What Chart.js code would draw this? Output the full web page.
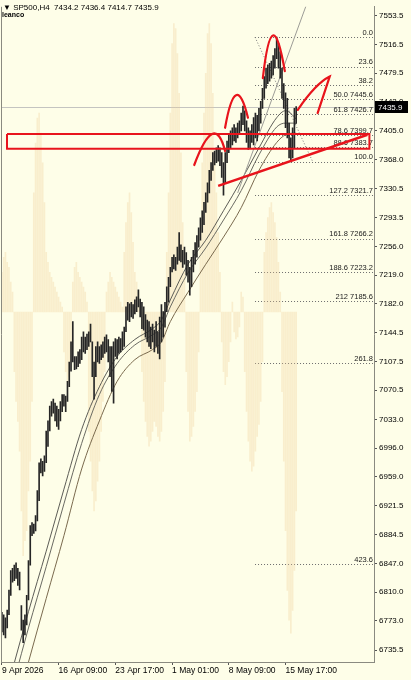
<!DOCTYPE html>
<html>
<head>
<meta charset="utf-8">
<script src="https://cdn.jsdelivr.net/npm/chart.js@4.4.1/dist/chart.umd.min.js"></script>
<style>
  html, body { margin: 0; padding: 0; background: #fefee8; }
</style>
</head>
<body>
<canvas id="chart" width="411" height="680"></canvas>
<script>
// 行情数据 (SP500, H4) - 最高/最低价
const highs = [
  6784, 6781, 6777, 6787, 6813, 6838, 6841, 6845, 6848, 6841,
  6836, 6793, 6774, 6781, 6806, 6851, 6896, 6900, 6898, 6909,
  6941, 6977, 6982, 6979, 6986, 7018, 7031, 7050, 7056, 7059,
  7054, 7050, 7046, 7056, 7065, 7065, 7063, 7082, 7107, 7133,
  7159, 7114, 7114, 7120, 7123, 7139, 7146, 7139, 7143, 7146,
  7156, 7133, 7107, 7127, 7133, 7127, 7129, 7133, 7139, 7142,
  7136, 7127, 7127, 7133, 7137, 7136, 7139, 7137, 7146, 7152,
  7178, 7184, 7182, 7184, 7181, 7187, 7191, 7200, 7188, 7184,
  7178, 7168, 7161, 7159, 7152, 7156, 7148, 7159, 7146, 7165,
  7181, 7172, 7184, 7204, 7216, 7229, 7242, 7245, 7242, 7255,
  7274, 7258, 7251, 7255, 7248, 7238, 7229, 7242, 7251, 7261,
  7270, 7280, 7293, 7302, 7313, 7325, 7338, 7354, 7364, 7377,
  7379, 7383, 7386, 7383, 7377, 7364, 7377, 7392, 7400, 7405,
  7409, 7413, 7409, 7415, 7418, 7428, 7437, 7431, 7418, 7409,
  7405, 7413, 7422, 7428, 7425, 7434, 7443, 7460, 7475, 7486,
  7490, 7492, 7495, 7502, 7511, 7526, 7518, 7507, 7486, 7466,
  7454, 7447, 7415, 7396, 7409, 7434, 7436.4
];
const lows = [
  6759, 6755, 6751, 6764, 6781, 6806, 6823, 6825, 6828, 6819,
  6813, 6761, 6745, 6755, 6768, 6800, 6845, 6883, 6886, 6889,
  6902, 6928, 6964, 6960, 6966, 6977, 6998, 7018, 7037, 7041,
  7031, 7024, 7020, 7031, 7043, 7050, 7043, 7056, 7075, 7095,
  7107, 7097, 7098, 7101, 7105, 7110, 7120, 7118, 7123, 7127,
  7133, 7088, 7059, 7088, 7107, 7105, 7110, 7113, 7118, 7120,
  7107, 7088, 7069, 7054, 7114, 7111, 7118, 7120, 7123, 7127,
  7146, 7161, 7159, 7165, 7163, 7169, 7172, 7178, 7165, 7150,
  7148, 7139, 7133, 7127, 7124, 7133, 7120, 7127, 7118, 7111,
  7133, 7139, 7152, 7172, 7184, 7204, 7223, 7227, 7225, 7233,
  7238, 7236, 7229, 7233, 7219, 7210, 7193, 7204, 7223, 7233,
  7242, 7255, 7264, 7274, 7284, 7300, 7313, 7325, 7341, 7354,
  7361, 7364, 7366, 7360, 7345, 7322, 7338, 7364, 7377, 7383,
  7387, 7392, 7390, 7396, 7400, 7405, 7413, 7405, 7390, 7381,
  7383, 7390, 7387, 7396, 7392, 7405, 7415, 7434, 7447, 7460,
  7466, 7469, 7473, 7477, 7486, 7498, 7486, 7473, 7447, 7434,
  7409, 7396, 7370, 7366, 7370, 7383, 7414.7
];

// 背景里的柱状指标
const osc = [
  40, 55, 60, 50, 45, 30, 20,
  -60, -90, -110, -140,
  -200, -245, -230, -220, -180, -150,
  -90,
  120, 170, 195, 200, 180, 150, 110,
  60, 50, 40, 35, 30, 25, 20, 15, 10, 5,
  -40, -60, -70, -65, -50,
  30, 45, 50, 40, 35, 30, 25, 20, 10,
  -120, -150, -180, -200, -190, -170, -150, -120, -90, -60,
  20, 30, 40, 35, 30, 25, 20, 15, 10, 5,
  60, 90, 110, 120, 100, 70,
  40, 30, 20, 10,
  -60, -90, -110, -125, -135, -130, -120, -110, -115, -125, -130, -120, -100, -70,
  60, 120, 200,
  270, 290, 285, 260, 220, 160,
  90, 40,
  -60, -100, -130, -125, -115, -100, -80, -40,
  80, 150, 200, 240,
  280, 290, 270, 220,
  160, 120, 80, 40,
  -30, -60, -73, -65, -50, -30,
  10,
  -20, -27, -25, -15,
  20, 15,
  -60, -100, -130, -150, -160, -155, -140, -125, -113, -90, -50,
  60, 80, 95, 105, 110, 100, 90, 75, 50, 20,
  -80, -150, -220, -280, -310, -323, -300, -260, -200
];

// 三条均线 (bar 序号 / 价格)
const maIdx = [7, 15, 25, 35, 45, 55, 65, 75, 85, 90, 95, 105, 115, 125, 135, 145, 155, 160, 165, 166];
const ma1 = [6719, 6785, 6863, 6943, 7020, 7075, 7114, 7136, 7150, 7161, 7187, 7233, 7264, 7302, 7341, 7383, 7422, 7431, 7423, 7420];
const ma2 = [6697, 6764, 6843, 6924, 7002, 7065, 7105, 7129, 7142, 7152, 7178, 7222, 7254, 7290, 7328, 7374, 7410, 7415, 7415, 7414];
const ma3 = [6652, 6720, 6802, 6883, 6969, 7031, 7082, 7110, 7123, 7133, 7159, 7197, 7233, 7268, 7306, 7354, 7390, 7400, 7402, 7402];

// 坐标轴刻度
const yTicks = [7553.5, 7516.5, 7479.5, 7442.0, 7405.0, 7368.0, 7330.5, 7293.5, 7256.0, 7219.0, 7182.0,
  7144.5, 7107.5, 7070.5, 7033.0, 6996.0, 6959.0, 6921.5, 6884.5, 6847.0, 6810.0, 6773.0, 6735.5];
const timeIdx = [0, 32, 64, 96, 128, 160];
const timeLabels = ['9 Apr 2026', '16 Apr 09:00', '23 Apr 17:00', '1 May 01:00', '8 May 09:00', '15 May 17:00'];

// 斐波那契回撤
const fibLabels = ['0.0', '23.6', '38.2', '50.0 7445.6', '61.8 7426.7', '78.6 7399.7', '88.6 7383.7', '100.0',
  '127.2 7321.7', '161.8 7266.2', '188.6 7223.2', '212 7185.6', '261.8', '423.6'];
const fibPrices = [7525.8, 7487.9, 7464.5, 7445.6, 7426.7, 7399.7, 7383.7, 7365.4,
  7321.7, 7266.2, 7223.2, 7185.6, 7105.9, 6846.4];
const fibStart = 142.8;
const fibDiag = [[142.8, 7525.8], [175.3, 7365.4]];

// 手画的红色标注
const redBox = [[2.9, 7401], [207.3, 7401], [207.3, 7382], [2.9, 7382], [2.9, 7401]];
const redTrend = [[122, 7334], [206.2, 7400]];
const redArcs = [
  [[108.5, 7361], [118.6, 7401], [125.9, 7379]],
  [[125.9, 7409], [132.1, 7451], [138.8, 7422]],
  [[147.2, 7473], [152.9, 7528], [159.6, 7482]]
];
const redHook = [[166.9, 7432], [177, 7466], [184.9, 7475], [178.1, 7428]];
const greyLine = [[133, 7325], [172, 7569]];

const quote = { name: 'SP500,H4', open: 7434.2, high: 7436.4, low: 7414.7, close: 7435.9 };

const BG = '#fefee8';
const RED = '#e8141c';
const FONT = '"Liberation Sans", Arial, sans-serif';

const pts = arr => arr.map(p => ({ x: p[0], y: p[1] }));
const maData = arr => maIdx.map((x, k) => ({ x: x, y: arr[k] }));

const overlay = {
  id: 'overlay',
  beforeDraw(chart) {
    const c = chart.ctx;
    c.save();
    c.fillStyle = BG;
    c.fillRect(0, 0, chart.width, chart.height);
    c.restore();
  },
  beforeDatasetsDraw(chart) {
    const c = chart.ctx, xs = chart.scales.x, ys = chart.scales.y, a = chart.chartArea;
    c.save();
    // 当前价格线
    const py = Math.round(ys.getPixelForValue(quote.close)) + 0.5;
    c.strokeStyle = '#c4c4c0';
    c.lineWidth = 1;
    c.beginPath(); c.moveTo(a.left, py); c.lineTo(a.right, py); c.stroke();
    // 斐波那契线
    const x0 = xs.getPixelForValue(fibStart);
    c.setLineDash([1, 2]);
    c.strokeStyle = '#6e6e6e';
    fibPrices.forEach(p => {
      const y = Math.round(ys.getPixelForValue(p)) + 0.5;
      c.beginPath(); c.moveTo(x0, y); c.lineTo(a.right, y); c.stroke();
    });
    c.setLineDash([]);
    c.fillStyle = '#1a1a1a';
    c.font = '7.5px ' + FONT;
    c.textAlign = 'right';
    c.textBaseline = 'bottom';
    fibLabels.forEach((t, k) => {
      c.fillText(t, a.right - 1, ys.getPixelForValue(fibPrices[k]) - 0.5);
    });
    c.restore();
  },
  afterDatasetsDraw(chart) {
    const c = chart.ctx, xs = chart.scales.x, ys = chart.scales.y, a = chart.chartArea;
    const px = p => [xs.getPixelForValue(p[0]), ys.getPixelForValue(p[1])];
    c.save();
    c.beginPath(); c.rect(a.left, a.top, a.right - a.left, a.bottom - a.top); c.clip();
    c.strokeStyle = RED;
    c.lineWidth = 2.2;
    c.lineCap = 'round';
    redArcs.forEach(arc => {
      const s = px(arc[0]), m = px(arc[1]), e = px(arc[2]);
      const cx = 2 * m[0] - (s[0] + e[0]) / 2, cy = 2 * m[1] - (s[1] + e[1]) / 2;
      c.beginPath(); c.moveTo(s[0], s[1]); c.quadraticCurveTo(cx, cy, e[0], e[1]); c.stroke();
    });
    const h = redHook.map(px);
    c.beginPath();
    c.moveTo(h[0][0], h[0][1]);
    c.quadraticCurveTo(h[1][0], h[1][1], h[2][0], h[2][1]);
    c.lineTo(h[3][0], h[3][1]);
    c.stroke();
    c.restore();
  },
  afterDraw(chart) {
    const c = chart.ctx, ys = chart.scales.y, a = chart.chartArea;
    c.save();
    // 左边框
    c.strokeStyle = '#8a8a80';
    c.lineWidth = 1;
    c.beginPath(); c.moveTo(a.left + 0.5, a.top); c.lineTo(a.left + 0.5, a.bottom); c.stroke();
    // 标题
    c.fillStyle = '#000';
    c.textBaseline = 'alphabetic';
    c.textAlign = 'left';
    c.font = '8px ' + FONT;
    c.fillText('\u25BC ' + quote.name + '  ' + [quote.open, quote.high, quote.low, quote.close].map(v => v.toFixed(1)).join(' '), 3, 10);
    c.font = 'bold 7px ' + FONT;
    c.fillText('leanco', 2, 17);
    // 价格标签
    const y = ys.getPixelForValue(quote.close);
    c.fillStyle = '#000';
    c.fillRect(a.right + 1, Math.round(y) - 6, 33, 12);
    c.fillStyle = '#fff';
    c.font = '8px ' + FONT;
    c.textBaseline = 'middle';
    c.fillText(quote.close.toFixed(1), a.right + 4, y + 0.5);
    c.restore();
  }
};

new Chart(document.getElementById('chart'), {
  type: 'bar',
  data: {
    datasets: [
      {
        type: 'bar', yAxisID: 'y2', order: 10, grouped: false,
        data: osc.map((v, i) => ({ x: i, y: [0, v] })),
        backgroundColor: 'rgba(240, 205, 150, 0.32)', barThickness: 1
      },
      {
        type: 'bar', yAxisID: 'y', order: 3, grouped: false,
        data: highs.map((h, i) => ({ x: i, y: [lows[i], h] })),
        backgroundColor: '#262626', barThickness: 1
      },
      { type: 'line', order: 5, data: maData(ma1), borderColor: '#5c5c56', borderWidth: 1, pointRadius: 0, cubicInterpolationMode: 'monotone' },
      { type: 'line', order: 5, data: maData(ma2), borderColor: '#6a6a62', borderWidth: 1, pointRadius: 0, cubicInterpolationMode: 'monotone' },
      { type: 'line', order: 5, data: maData(ma3), borderColor: '#7a6a4e', borderWidth: 1, pointRadius: 0, cubicInterpolationMode: 'monotone' },
      { type: 'line', order: 4, data: pts(greyLine), borderColor: '#9c9c96', borderWidth: 1, pointRadius: 0 },
      { type: 'line', order: 4, data: pts(fibDiag), borderColor: '#7a7a7a', borderWidth: 1, borderDash: [1, 2], pointRadius: 0 },
      { type: 'line', order: 0, data: pts(redBox), borderColor: RED, borderWidth: 2, pointRadius: 0 },
      { type: 'line', order: 0, data: pts(redTrend), borderColor: RED, borderWidth: 2.5, pointRadius: 0 }
    ]
  },
  options: {
    responsive: false,
    animation: false,
    devicePixelRatio: 1,
    layout: { padding: { left: 1, top: 3, right: 0, bottom: 0 } },
    plugins: { legend: { display: false }, tooltip: { enabled: false } },
    scales: {
      x: {
        type: 'linear', position: 'bottom', min: -0.5, max: 209.9, offset: false,
        afterBuildTicks: s => { s.ticks = timeIdx.map(v => ({ value: v })); },
        afterFit: s => { s.height = 18; },
        ticks: {
          autoSkip: false, maxRotation: 0, align: 'start', padding: 1,
          color: '#000', font: { family: FONT, size: 8.5 },
          callback: (v, k) => timeLabels[k]
        },
        grid: { drawOnChartArea: false, tickLength: 3, color: '#555', offset: false },
        border: { display: true, color: '#8a8a80' }
      },
      y: {
        type: 'linear', position: 'right', min: 6720.1, max: 7565,
        afterBuildTicks: s => { s.ticks = yTicks.map(v => ({ value: v })); },
        afterFit: s => { s.width = 37; },
        ticks: {
          padding: 2, color: '#000', font: { family: FONT, size: 8 },
          callback: v => v.toFixed(1)
        },
        grid: { drawOnChartArea: false, tickLength: 3, color: '#555' },
        border: { display: true, color: '#8a8a80' }
      },
      y2: { type: 'linear', display: false, min: -352, max: 307 }
    }
  },
  plugins: [overlay]
});
</script>
</body>
</html>
